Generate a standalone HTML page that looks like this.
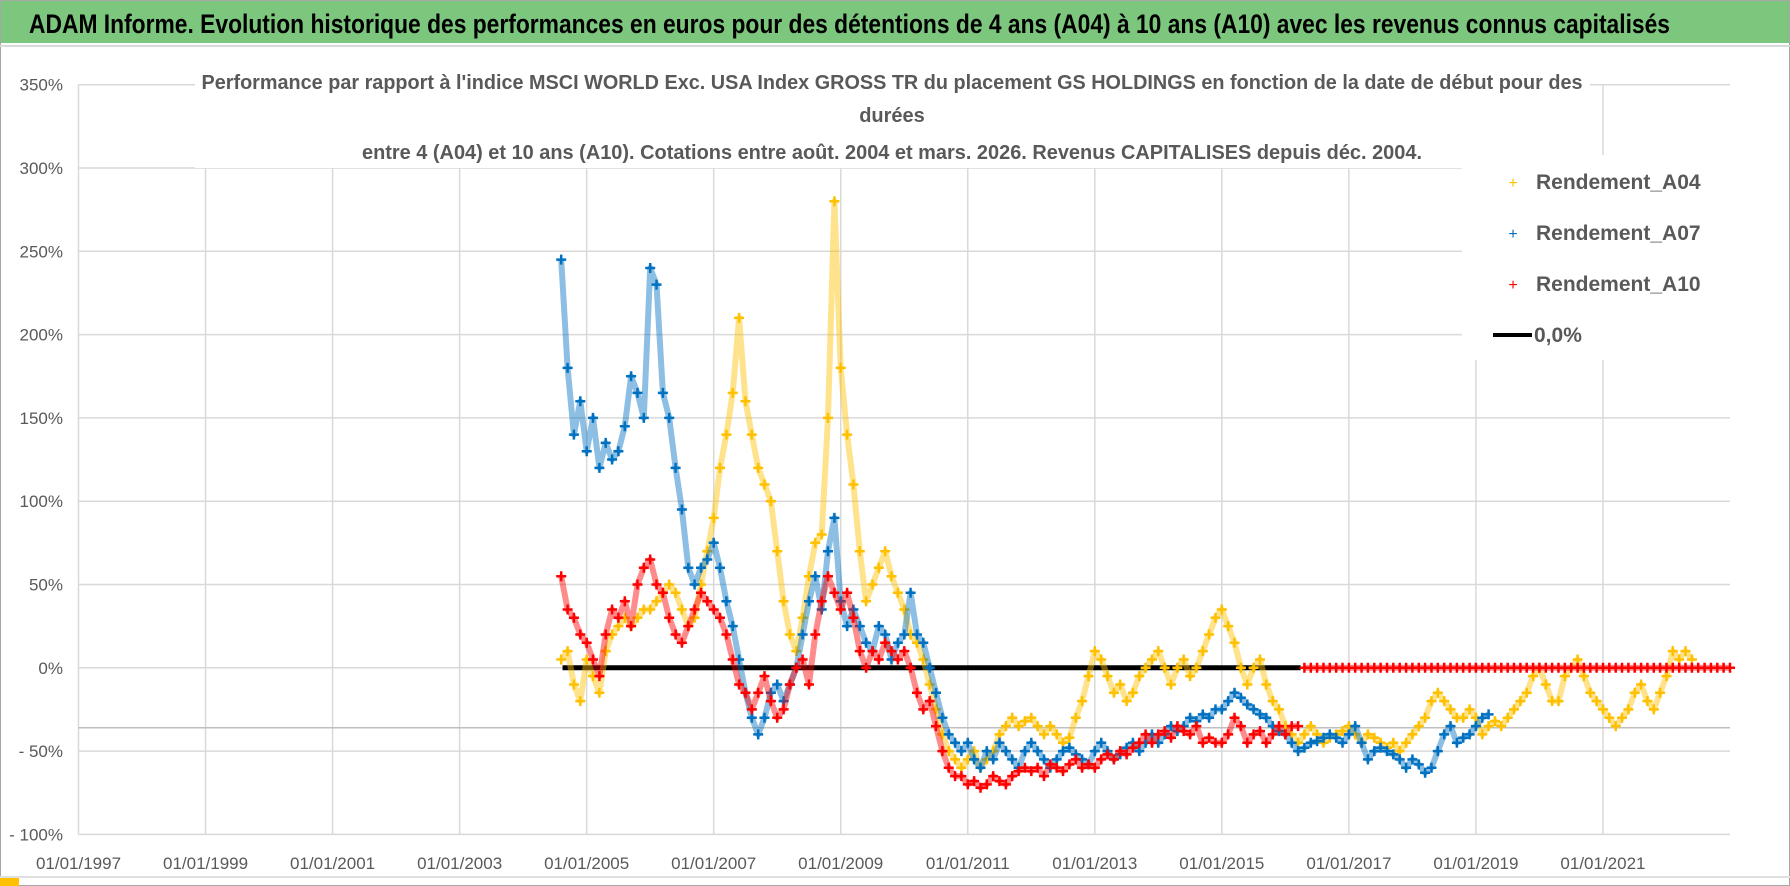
<!DOCTYPE html>
<html><head><meta charset="utf-8"><style>
html,body{margin:0;padding:0;background:#fff;}
svg{display:block;}
text{font-family:"Liberation Sans",sans-serif;}
</style></head><body>
<svg id="chart" width="1790" height="886" viewBox="0 0 1790 886" xmlns="http://www.w3.org/2000/svg">
<rect x="0.5" y="0.5" width="1789" height="885" fill="#fff" stroke="#a6a6a6"/>
<rect x="1" y="1" width="1788" height="42" fill="#7dc67e"/>
<line x1="0" y1="46" x2="1790" y2="46" stroke="#d9d9d9" stroke-width="2"/>
<text x="29" y="33" font-size="27" font-weight="bold" fill="#000" textLength="1641" lengthAdjust="spacingAndGlyphs">ADAM Informe. Evolution historique des performances en euros pour des détentions de 4 ans (A04) à 10 ans (A10) avec les revenus connus capitalisés</text>
<rect x="0" y="876" width="19" height="10" fill="#ffc000"/>
<g id="grid"></g>
<g id="series"></g>
<rect x="195" y="70" width="1395" height="98" fill="#fff"/>
<text x="892" y="89" font-size="20" font-weight="bold" fill="#595959" text-anchor="middle" textLength="1381" lengthAdjust="spacingAndGlyphs">Performance par rapport à l'indice MSCI WORLD Exc. USA Index GROSS TR  du placement GS HOLDINGS en fonction de la date de début pour des</text>
<text x="892" y="122" font-size="20" font-weight="bold" fill="#595959" text-anchor="middle">durées</text>
<text x="892" y="159" font-size="20" font-weight="bold" fill="#595959" text-anchor="middle" textLength="1060" lengthAdjust="spacingAndGlyphs">entre 4 (A04) et 10 ans (A10). Cotations entre août. 2004 et mars. 2026. Revenus CAPITALISES depuis déc. 2004.</text>
<g>
<rect x="1462" y="155" width="268" height="205" fill="#fff"/>
<text x="1513" y="188" font-size="16" fill="#ffc000" text-anchor="middle">+</text>
<text x="1536" y="189" font-size="21" font-weight="bold" fill="#595959">Rendement_A04</text>
<text x="1513" y="239" font-size="16" fill="#0070c0" text-anchor="middle">+</text>
<text x="1536" y="240" font-size="21" font-weight="bold" fill="#595959">Rendement_A07</text>
<text x="1513" y="290" font-size="16" fill="#ff0000" text-anchor="middle">+</text>
<text x="1536" y="291" font-size="21" font-weight="bold" fill="#595959">Rendement_A10</text>
<line x1="1493" y1="335" x2="1532" y2="335" stroke="#000" stroke-width="4"/>
<text x="1534" y="342" font-size="21" font-weight="bold" fill="#595959">0,0%</text>
</g>
</svg>
<script>
const yTicks = [350,300,250,200,150,100,50,0,-50,-100];
const yTickLabels = ["350%","300%","250%","200%","150%","100%","50%","0%","- 50%","- 100%"];
const xTicks = [1997,1999,2001,2003,2005,2007,2009,2011,2013,2015,2017,2019,2021];
const xTickLabels = ["01/01/1997","01/01/1999","01/01/2001","01/01/2003","01/01/2005","01/01/2007","01/01/2009","01/01/2011","01/01/2013","01/01/2015","01/01/2017","01/01/2019","01/01/2021"];
const stepYears = 0.1;
const a04Start = 2004.6;
const a04 = [5,10,-10,-20,
5,-5,-15,10,20,25,30,25,30,35,
35,40,45,50,45,35,25,30,50,70,
90,120,140,165,210,160,140,120,110,100,
70,40,20,10,30,55,75,80,150,280,
180,140,110,70,40,50,60,70,55,45,
35,20,15,5,-10,-25,-40,-50,-55,-60,
-55,-50,-60,-55,-50,-40,-35,-30,-35,-32,
-30,-35,-40,-35,-40,-45,-42,-30,-20,-5,
10,5,-5,-15,-10,-20,-15,-5,0,5,
10,0,-10,0,5,-5,0,10,20,30,
35,25,15,0,-10,0,5,-10,-20,-25,
-35,-40,-45,-40,-35,-40,-45,-42,-40,-38,
-35,-40,-45,-40,-42,-45,-48,-45,-50,-45,
-40,-35,-30,-20,-15,-20,-25,-30,-30,-25,
-30,-40,-35,-32,-35,-30,-25,-20,-15,-5,
0,-10,-20,-20,-5,0,5,-5,-15,-20,
-25,-30,-35,-30,-25,-15,-10,-20,-25,-15,
-5,10,5,10,5];
const a07Start = 2004.6;
const a07 = [245,180,140,160,
130,150,120,135,125,130,145,175,165,150,
240,230,165,150,120,95,60,50,60,65,
75,60,40,25,5,-15,-30,-40,-30,-15,
-10,-20,-10,0,20,40,55,35,70,90,
40,25,35,25,15,10,25,20,5,15,
20,45,20,15,0,-15,-30,-40,-45,-50,
-45,-55,-60,-50,-55,-45,-50,-55,-60,-50,
-45,-50,-55,-60,-55,-50,-48,-52,-55,-58,
-50,-45,-50,-55,-52,-48,-45,-50,-45,-40,
-45,-40,-35,-38,-35,-30,-32,-28,-30,-25,
-25,-20,-15,-18,-22,-25,-28,-30,-35,-38,
-40,-45,-50,-48,-45,-44,-42,-40,-42,-45,
-40,-35,-45,-55,-50,-48,-50,-52,-55,-60,
-55,-58,-63,-60,-50,-40,-35,-45,-42,-40,
-35,-30,-28];
const a10Start = 2004.6;
const a10 = [55,35,30,20,
15,5,-5,20,35,30,40,25,50,60,
65,50,45,30,20,15,25,35,45,40,
35,30,20,5,-10,-15,-25,-15,-5,-20,
-30,-25,-10,0,5,-10,20,40,55,45,
35,45,30,10,0,10,5,15,10,5,
10,0,-15,-25,-20,-35,-50,-60,-65,-65,
-70,-68,-72,-70,-65,-68,-70,-65,-62,-60,
-62,-60,-65,-58,-60,-62,-58,-55,-60,-58,
-60,-55,-52,-55,-50,-52,-48,-45,-40,-45,
-40,-38,-42,-35,-38,-40,-35,-45,-42,-45,
-45,-40,-30,-35,-45,-40,-38,-45,-40,-35,
-40,-35,-35,
0,0,0,0,0,0,0,
0,0,0,0,0,0,0,0,0,0,
0,0,0,0,0,0,0,0,0,0,
0,0,0,0,0,0,0,0,0,0,
0,0,0,0,0,0,0,0,0,0,
0,0,0,0,0,0,0,0,0,0,
0,0,0,0,0,0,0,0,0,0,
0];
const zeroLineRange = [2004.62, 2016.24];

const NS="http://www.w3.org/2000/svg";
const X0=78.5, X1=1730, YEAR0=1997, YEAR1=2023;
function xScale(yr){return X0+(yr-YEAR0)*(X1-X0)/(YEAR1-YEAR0);}
function yScale(v){return 667.8-v*1.666;}
function mk(tag,attrs,parent){const e=document.createElementNS(NS,tag);for(const k in attrs)e.setAttribute(k,attrs[k]);parent.appendChild(e);return e;}
const grid=document.getElementById('grid');
const svg=document.getElementById('chart');
yTicks.forEach((v,i)=>{
  const l=mk('line',{x1:X0,x2:X1,y1:yScale(v),y2:yScale(v),stroke:'#d9d9d9','stroke-width':1.5},grid);
  
  
  const t=mk('text',{x:63,y:yScale(v)+6,'font-size':17,fill:'#595959','text-anchor':'end'},svg);
  t.textContent=yTickLabels[i];
  
  
});
xTicks.forEach((yr,i)=>{
  const l=mk('line',{x1:xScale(yr),x2:xScale(yr),y1:yScale(350),y2:yScale(-100),stroke:'#d9d9d9','stroke-width':1.5},grid);
  
  
  const t=mk('text',{x:xScale(yr),y:869,'font-size':17,fill:'#595959','text-anchor':'middle'},svg);
  t.textContent=xTickLabels[i];
  
  
});
const extra=mk('line',{x1:X0,x2:X1,y1:727.7,y2:727.7,stroke:'#bfbfbf','stroke-width':1.5},grid);


const bl=mk('line',{x1:0,x2:1790,y1:877,y2:877,stroke:'#e0e0e0','stroke-width':2},grid);



const sg=document.getElementById('series');
const zl=mk('line',{x1:xScale(zeroLineRange[0]),x2:xScale(zeroLineRange[1]),y1:yScale(0),y2:yScale(0),stroke:'#000','stroke-width':5},sg);



function drawSeries(vals,start,color,name){
  const g=mk('g',{},sg);
  
  
  let d1='';
  vals.forEach((v,i)=>{
    const x=xScale(start+i*stepYears).toFixed(1), y=yScale(v).toFixed(1);
    const brk = i===0 || (v===0 && vals[i-1]!==0 && i+1<vals.length && vals[i+1]===0);
    d1 += (brk?'M':'L')+x+' '+y;
  });
  const band=mk('path',{d:d1,fill:'none',stroke:color,'stroke-width':6,'stroke-opacity':0.45,'stroke-linejoin':'round'},g);
  
  
  let d='';
  vals.forEach((v,i)=>{
    const x=xScale(start+i*stepYears), y=yScale(v);
    d+=`M${(x-5).toFixed(1)} ${y.toFixed(1)}h10M${x.toFixed(1)} ${(y-5).toFixed(1)}v10`;
  });
  const p=mk('path',{d:d,stroke:color,'stroke-width':2.5,fill:'none'},g);
  
  
}
drawSeries(a04,a04Start,'#ffc000','series-rendement-a04');
drawSeries(a07,a07Start,'#0070c0','series-rendement-a07');
drawSeries(a10,a10Start,'#ff0000','series-rendement-a10');
</script>
</body></html>
